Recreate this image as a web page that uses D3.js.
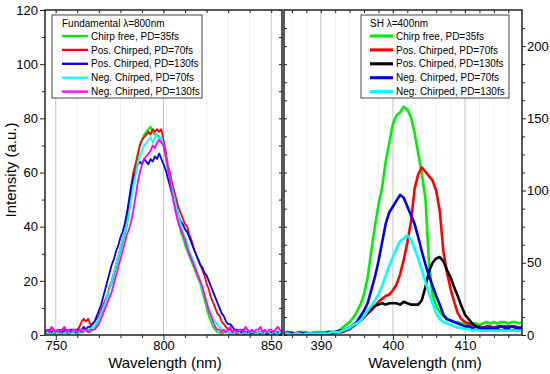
<!DOCTYPE html>
<html>
<head>
<meta charset="utf-8">
<script src="https://cdn.jsdelivr.net/npm/d3@7/dist/d3.min.js"></script>
<style>
  body { margin: 0; background: #fff; }
  text { font-family: "Liberation Sans", Arial, sans-serif; fill: #000; }
</style>
</head>
<body>
<script>
// ---- data: fundamental spectra (745..855 nm, 1 nm steps) ----
var fundWl = d3.range(745, 856, 1);

var fundChirpFree = [
  1,0,1,1,0,1,1,0,1,1,
  1,0,1,1,1,0,1,1,1,2,
  1,1,2,2,4,6,8,10,12,14,
  17,19,22,25,28,31,34,37,40,46,
  53,59,63,67,70,72,74,75,76,77,
  75,74,74,73,72,70,66,61,58,55,
  52,47,42,38,36,33,31,29,27,25,
  23,21,19,16,13,10,7,5,3,2,
  1,1,0,1,1,1,0,1,1,1,
  0,1,1,0,1,1,1,0,1,1,
  0,1,1,1,0,1,1,0,1,1,
  1];
var fundPos70 = [
  1,2,1,1,2,1,1,2,1,1,
  2,1,2,1,2,2,3,5,6,5,
  6,4,4,5,6,7,9,11,13,15,
  18,20,23,26,29,32,35,38,42,48,
  55,60,63,66,70,72,73,74,75,74,
  76,75,76,75,76,72,68,63,60,56,
  53,50,47,45,43,41,40,37,35,32,
  30,28,26,24,22,19,17,14,12,10,
  8,7,5,4,3,2,2,1,1,0,
  0,1,0,0,1,0,1,0,0,1,
  0,1,1,0,1,0,1,1,0,1,
  0];
var fundPos130 = [
  1,1,2,1,1,1,2,1,1,2,
  1,1,2,2,1,2,2,2,3,2,
  3,3,4,5,7,9,11,14,17,20,
  23,26,28,31,33,36,38,41,45,50,
  55,58,60,63,64,63,65,64,63,65,
  64,66,65,67,65,63,61,58,55,52,
  50,47,44,42,41,39,38,36,34,32,
  30,28,26,25,23,22,20,18,16,14,
  12,10,8,7,5,4,4,3,2,2,
  1,1,2,1,1,0,1,1,0,1,
  1,0,1,0,1,1,0,1,1,0,
  1];
var fundNeg70 = [
  1,1,1,0,1,1,1,1,0,1,
  1,1,1,1,2,1,1,2,1,2,
  2,2,3,3,5,6,8,10,12,15,
  17,20,23,26,29,32,35,38,41,45,
  50,55,59,63,66,68,70,71,72,73,
  71,73,74,72,73,70,66,62,58,54,
  51,47,44,41,38,36,34,31,29,27,
  25,22,20,17,15,12,10,8,6,5,
  4,3,2,2,1,1,1,0,1,1,
  1,0,1,1,0,1,1,1,0,1,
  1,0,1,1,1,0,1,1,0,1,
  1];
var fundNeg130 = [
  1,2,1,3,2,1,2,1,2,3,
  1,2,1,2,2,1,2,1,2,2,
  1,2,2,2,3,4,6,8,10,12,
  14,16,19,22,25,28,31,34,37,39,
  42,46,51,56,60,63,65,66,67,68,
  70,69,71,72,71,70,66,62,57,52,
  48,44,41,39,37,35,32,30,28,26,
  24,22,20,18,15,12,9,7,5,3,
  2,2,1,2,1,2,3,1,2,1,
  2,2,1,3,2,1,2,1,2,2,
  3,1,2,1,2,2,1,2,3,2,
  1];

// ---- data: second harmonic spectra (385..418 nm, 0.5 nm steps) ----
var shWl = d3.range(385, 418.25, 0.5);

var shChirpFree = [
  2,2,2,1,2,2,2,1,2,2,
  2,2,2,2,2,3,5,7,9,12,
  16,21,28,40,58,75,90,102,120,133,
  146,152,154,158,156,151,140,126,112,95,
  50,28,20,16,13,11,10,9,9,8,
  8,7,8,8,7,8,9,8,9,8,
  9,9,8,9,9,8,9];
var shPos70 = [
  1,2,1,1,2,1,1,1,1,1,
  1,1,1,1,2,2,2,3,4,6,
  8,10,12,15,17,20,23,25,27,28,
  31,35,42,52,64,78,101,111,116,113,
  110,107,100,86,58,43,32,23,15,11,
  9,8,7,6,6,5,6,6,5,6,
  6,6,6,6,6,5,6];
var shPos130 = [
  1,1,0,1,1,1,1,1,1,1,
  1,1,1,1,2,2,3,4,5,7,
  8,10,13,15,18,20,21,22,21,22,
  22,22,21,23,22,21,21,21,24,33,
  44,50,53,54,51,45,40,33,27,20,
  14,11,8,6,5,4,4,3,3,4,
  3,3,4,3,3,4,3];
var shNeg70 = [
  1,1,1,0,1,1,1,1,1,1,
  1,1,2,2,2,3,3,4,5,7,
  9,13,17,22,31,40,51,64,77,85,
  89,93,97,95,89,83,77,68,58,49,
  41,34,27,21,14,11,10,9,8,7,
  6,6,5,5,4,5,5,5,5,5,
  6,5,5,6,5,5,5];
var shNeg130 = [
  1,1,0,1,1,0,1,1,1,1,
  1,1,1,2,2,2,3,4,5,7,
  8,10,13,17,20,24,28,34,41,48,
  54,60,65,67,69,66,60,53,45,37,
  29,22,15,11,9,8,7,6,5,5,
  4,4,3,4,3,3,3,3,3,3,
  3,3,3,3,3,3,3];

var fundNames = ['Chirp free, PD=35fs', 'Pos. Chirped, PD=70fs', 'Pos. Chirped, PD=130fs',
                 'Neg. Chirped, PD=70fs', 'Neg. Chirped, PD=130fs'];
var shNames = fundNames;
var fundColors = ['#00ee00', '#ff0000', '#0000ee', '#00ffff', '#ff00ff'];
var shColors = ['#00ee00', '#ff0000', '#000000', '#0000ee', '#00ffff'];

var fundSeries = [fundChirpFree, fundPos70, fundPos130, fundNeg70, fundNeg130];
var shSeries = [shChirpFree, shPos70, shPos130, shNeg70, shNeg130];

// ---- layout ----
var width = 550, height = 374;
var plotTop = 10, plotBottom = 335;

var svg = d3.select('body').append('svg')
  .attr('width', width)
  .attr('height', height);

var xL = d3.scaleLinear().domain([745, 855]).range([45, 282]);
var yL = d3.scaleLinear().domain([0, 120]).range([plotBottom, plotTop]);
var xR = d3.scaleLinear().domain([384.9, 417.9]).range([284, 522]);
var yR = d3.scaleLinear().domain([0, 225]).range([plotBottom, plotTop]);

var defs = svg.append('defs');
defs.append('clipPath').attr('id', 'clipL')
  .append('rect').attr('x', 45).attr('y', plotTop).attr('width', 237).attr('height', plotBottom - plotTop);
defs.append('clipPath').attr('id', 'clipR')
  .append('rect').attr('x', 284).attr('y', plotTop).attr('width', 238).attr('height', plotBottom - plotTop);

function drawPanel(opts) {
  var x = opts.x, y = opts.y;
  var x0 = x.range()[0], x1 = x.range()[1];
  var g = svg.append('g');

  // faint minor grid, then major grid
  g.selectAll('.mgrid').data(opts.minorX).enter().append('line')
    .attr('x1', x).attr('x2', x).attr('y1', plotTop).attr('y2', plotBottom)
    .attr('stroke', '#f0f0f0').attr('stroke-width', 1);
  g.selectAll('.grid').data(opts.majorX).enter().append('line')
    .attr('x1', x).attr('x2', x).attr('y1', plotTop).attr('y2', plotBottom)
    .attr('stroke', '#c4c4c4').attr('stroke-width', 1);

  var line = d3.line()
    .x(function(d) { return x(d[0]); })
    .y(function(d) { return y(d[1]); });

  var lines = g.append('g').attr('clip-path', 'url(#' + opts.clip + ')');
  opts.series.forEach(function(s, i) {
    lines.append('path')
      .datum(opts.wl.map(function(w, j) { return [w, s[j]]; }))
      .attr('d', line)
      .attr('fill', 'none')
      .attr('stroke', opts.colors[i])
      .attr('stroke-width', opts.lw)
      .attr('stroke-linejoin', 'round');
  });

  // axes: bottom (labels + minor), top (inward)
  var ax = g.append('g').attr('class', 'axis');
  ax.append('g').attr('transform', 'translate(0,' + plotBottom + ')')
    .call(d3.axisBottom(x).tickValues(opts.minorX).tickSize(3).tickFormat(''));
  ax.append('g').attr('transform', 'translate(0,' + plotBottom + ')')
    .call(d3.axisBottom(x).tickValues(opts.majorX).tickSize(5).tickPadding(1).tickFormat(d3.format('d')));
  ax.append('g').attr('transform', 'translate(0,' + plotTop + ')')
    .call(d3.axisTop(x).tickValues(opts.minorX.concat(opts.majorX)).tickSize(-3).tickFormat(''));

  // y ticks: outer side gets labels, inner side mirrors
  if (opts.ySide === 'left') {
    ax.append('g').attr('transform', 'translate(' + x0 + ',0)')
      .call(d3.axisLeft(y).tickValues(opts.minorY).tickSize(3).tickFormat(''));
    ax.append('g').attr('transform', 'translate(' + x0 + ',0)')
      .call(d3.axisLeft(y).tickValues(opts.majorY).tickSize(5).tickPadding(2).tickFormat(d3.format('d')));
    ax.append('g').attr('transform', 'translate(' + x1 + ',0)')
      .call(d3.axisLeft(y).tickValues(opts.majorY.concat(opts.minorY)).tickSize(3).tickFormat(''));
  } else {
    ax.append('g').attr('transform', 'translate(' + x1 + ',0)')
      .call(d3.axisRight(y).tickValues(opts.minorY).tickSize(3).tickFormat(''));
    ax.append('g').attr('transform', 'translate(' + x1 + ',0)')
      .call(d3.axisRight(y).tickValues(opts.majorY).tickSize(4).tickPadding(1).tickFormat(d3.format('d')));
    ax.append('g').attr('transform', 'translate(' + x0 + ',0)')
      .call(d3.axisRight(y).tickValues(opts.majorY.concat(opts.minorY)).tickSize(3).tickFormat(''));
  }
  ax.selectAll('.domain').remove();
  ax.selectAll('line').attr('stroke', '#222').attr('stroke-width', 1);
  ax.selectAll('text').style('font-size', '13px').attr('fill', '#000');

  // frame
  g.append('rect')
    .attr('x', x0).attr('y', plotTop).attr('width', x1 - x0).attr('height', plotBottom - plotTop)
    .attr('fill', 'none').attr('stroke', '#222').attr('stroke-width', 1.5);

  // legend
  var lg = g.append('g').attr('transform', 'translate(' + opts.legend[0] + ',' + opts.legend[1] + ')');
  lg.append('rect').attr('width', opts.legend[2]).attr('height', 83)
    .attr('fill', '#fff').attr('stroke', '#444').attr('stroke-width', 1);
  lg.append('text').attr('x', opts.legend[3]).attr('y', 11.5)
    .style('font-size', '10px').text(opts.title);
  opts.names.forEach(function(n, i) {
    var cy = 21 + i * 13.9;
    lg.append('line').attr('x1', opts.legend[3]).attr('x2', opts.legend[4])
      .attr('y1', cy).attr('y2', cy)
      .attr('stroke', opts.colors[i]).attr('stroke-width', opts.lw + 0.5);
    lg.append('text').attr('x', opts.legend[4] + 3).attr('y', cy + 3.6)
      .style('font-size', '10px').text(n);
  });
}

drawPanel({
  x: xL, y: yL, wl: fundWl, series: fundSeries, colors: fundColors, names: fundNames,
  clip: 'clipL', lw: 1.8, ySide: 'left',
  majorX: [750, 800, 850], minorX: [760, 770, 780, 790, 810, 820, 830, 840],
  majorY: [0, 20, 40, 60, 80, 100, 120], minorY: [10, 30, 50, 70, 90, 110],
  title: 'Fundamental \u03bb=800nm', legend: [52, 15, 150, 10, 36]
});

drawPanel({
  x: xR, y: yR, wl: shWl, series: shSeries, colors: shColors, names: shNames,
  clip: 'clipR', lw: 2.6, ySide: 'right',
  majorX: [390, 400, 410],
  minorX: [386, 388, 392, 394, 396, 398, 402, 404, 406, 408, 412, 414, 416],
  majorY: [0, 50, 100, 150, 200], minorY: [12.5, 25, 37.5, 62.5, 75, 87.5, 112.5, 125, 137.5, 162.5, 175, 187.5, 212.5],
  title: 'SH \u03bb=400nm', legend: [361, 15, 148, 9, 32]
});

// axis titles
svg.append('text')
  .attr('transform', 'translate(16,170) rotate(-90)')
  .attr('text-anchor', 'middle')
  .style('font-size', '15px')
  .text('Intensity (a.u.)');

svg.append('text')
  .attr('x', 165).attr('y', 368)
  .attr('text-anchor', 'middle')
  .style('font-size', '15px')
  .text('Wavelength (nm)');

svg.append('text')
  .attr('x', 425).attr('y', 368)
  .attr('text-anchor', 'middle')
  .style('font-size', '15px')
  .text('Wavelength (nm)');
</script>
</body>
</html>
